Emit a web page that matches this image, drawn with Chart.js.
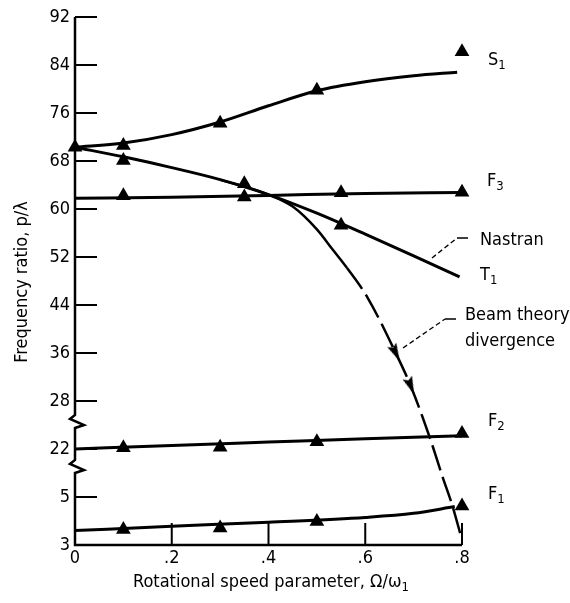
<!DOCTYPE html>
<html><head><meta charset="utf-8">
<script src="https://cdn.jsdelivr.net/npm/chart.js@4.4.0/dist/chart.umd.min.js"></script>
<style>html,body{margin:0;padding:0;background:#fff;} #wrap{width:570px;height:603px;position:relative;}</style>
</head><body><div id="wrap"><canvas id="c"></canvas></div>
<script>
const FONT = '"Liberation Sans Narrow", "DejaVu Sans Condensed", "Liberation Sans", sans-serif';

const s1LineX = [0, 0.1, 0.2, 0.3, 0.4, 0.5, 0.6, 0.7, 0.79];
const s1LineY = [70.3, 71.0, 72.4, 74.5, 77.2, 79.7, 81.2, 82.2, 82.8];
const s1PtsX = [0, 0.1, 0.3, 0.5, 0.8];
const s1PtsY = [70.3, 70.6, 74.3, 79.8, 86.2];

const t1LineX = [0, 0.1, 0.2, 0.3, 0.4, 0.5, 0.6, 0.7, 0.795];
const t1LineY = [70.3, 68.7, 66.9, 64.9, 62.4, 59.3, 55.8, 52.2, 48.7];
const t1PtsX = [0.1, 0.35, 0.55];
const t1PtsY = [68.1, 64.2, 57.3];

const f3LineX = [0, 0.2, 0.4, 0.6, 0.8];
const f3LineY = [61.8, 61.95, 62.25, 62.6, 62.75];
const f3PtsX = [0.1, 0.35, 0.55, 0.8];
const f3PtsY = [62.2, 62.0, 62.7, 62.8];

const f2LineX = [0, 0.2, 0.4, 0.6, 0.8];
const f2LineY = [22.0, 22.6, 23.15, 23.7, 24.2];
const f2PtsX = [0.1, 0.3, 0.5, 0.8];
const f2PtsY = [22.2, 22.3, 23.2, 24.6];

const f1LineX = [0, 0.2, 0.4, 0.6, 0.7, 0.785];
const f1LineY = [3.6, 3.78, 3.95, 4.15, 4.32, 4.6];
const f1PtsX = [0.1, 0.3, 0.5, 0.8];
const f1PtsY = [3.65, 3.71, 3.98, 4.63];

const beamX = [0.3, 0.4, 0.45, 0.5, 0.533, 0.562, 0.605, 0.663, 0.694, 0.733, 0.760, 0.781, 0.80];
const beamY = [64.9, 62.4, 60.4, 56.6, 53.2, 50.2, 45.2, 36.0, 30.5, 24.0, 5.83, 4.58, 3.21];
const beamDashFrom = 0.562;
const arrowX = [0.663, 0.694];
const arrowY = [36.0, 30.5];
const arrowAngle = [154, 158];

const xTicks = [0, 0.2, 0.4, 0.6, 0.8];
const xTickLabels = ['0', '.2', '.4', '.6', '.8'];
const yTicks = [3, 5, 22, 28, 36, 44, 52, 60, 68, 76, 84, 92];
const yTickLabels = ['3', '5', '22', '28', '36', '44', '52', '60', '68', '76', '84', '92'];

// ---- broken-axis mapping: real value -> axis coordinate ----
function toV(val) {
  if (val < 10) return (val - 3) * 4;   // bottom band (3..5)
  if (val < 26) return val - 6;         // middle band (22)
  return val - 4;                       // upper band (28..92)
}
const BREAK_UPPER_V = 20.5;
const BREAK_LOWER_V = 13;

const pts = (xs, ys) => xs.map((x, i) => ({x: x, y: toV(ys[i])}));

const lineDs = (xs, ys) => ({
  data: pts(xs, ys), showLine: true, borderColor: '#000', borderWidth: 3,
  pointRadius: 0, cubicInterpolationMode: 'monotone', clip: false, fill: false
});
const triDs = (xs, ys) => ({
  data: pts(xs, ys), showLine: false, pointStyle: 'triangle', pointRadius: 8.5,
  backgroundColor: '#000', borderColor: '#000', borderWidth: 0, clip: false
});

// arrow head image
const arrowImg = document.createElement('canvas');
arrowImg.width = 10; arrowImg.height = 18;
(function(){ const c = arrowImg.getContext('2d'); c.fillStyle = '#000'; c.beginPath();
  c.moveTo(5, 0); c.lineTo(10, 18); c.lineTo(5, 15); c.lineTo(0, 18); c.closePath(); c.fill(); })();

const decor = {
  id: 'decor',
  afterDraw(chart) {
    const ctx = chart.ctx, a = chart.chartArea, xs = chart.scales.x, ys = chart.scales.y;
    const L = a.left, B = a.bottom, T = a.top;
    ctx.save();
    ctx.strokeStyle = '#000'; ctx.lineCap = 'butt'; ctx.lineJoin = 'miter';
    // left axis with break marks
    const b1 = ys.getPixelForValue(BREAK_UPPER_V), b2 = ys.getPixelForValue(BREAK_LOWER_V);
    ctx.lineWidth = 2.5;
    ctx.beginPath();
    ctx.moveTo(L, T);
    [b1, b2].forEach(yb => {
      ctx.lineTo(L, yb - 7); ctx.lineTo(L - 5, yb - 3); ctx.lineTo(L + 9, yb + 3); ctx.lineTo(L, yb + 6);
    });
    ctx.lineTo(L, B);
    ctx.lineTo(xs.getPixelForValue(0.8), B);
    ctx.stroke();
    // tick marks (inside)
    ctx.lineWidth = 2;
    ctx.beginPath();
    yTicks.forEach(v => { const y = ys.getPixelForValue(toV(v)); ctx.moveTo(L, y); ctx.lineTo(L + 22, y); });
    xTicks.slice(1).forEach(v => { const x = xs.getPixelForValue(v); ctx.moveTo(x, B); ctx.lineTo(x, B - 22); });
    ctx.stroke();
    // leader lines
    ctx.lineWidth = 1.3; ctx.setLineDash([5, 3]);
    ctx.beginPath(); ctx.moveTo(432, 258); ctx.lineTo(457, 238); ctx.stroke();
    ctx.beginPath(); ctx.moveTo(403, 348); ctx.lineTo(445, 319); ctx.stroke();
    ctx.setLineDash([]);
    ctx.beginPath(); ctx.moveTo(457, 238); ctx.lineTo(468, 238); ctx.moveTo(445, 319); ctx.lineTo(456, 319); ctx.stroke();

    // texts
    ctx.fillStyle = '#000'; ctx.textBaseline = 'middle'; ctx.textAlign = 'left';
    const main = '18px ' + FONT, sub = '13px ' + FONT;
    function subText(m, s, x, y) {
      ctx.font = main; ctx.fillText(m, x, y);
      const w = ctx.measureText(m).width;
      ctx.font = sub; ctx.fillText(s, x + w, y + 6);
    }
    subText('S', '1', 488, 60);
    subText('F', '3', 487, 181);
    subText('T', '1', 480, 275);
    subText('F', '2', 488, 421);
    subText('F', '1', 488, 494);
    ctx.font = main;
    ctx.fillText('Nastran', 480, 240);
    ctx.fillText('Beam theory', 465, 315);
    ctx.fillText('divergence', 465, 341);
    // x title
    subText('Rotational speed parameter, \u03A9/\u03C9', '1', 133, 582);
    // y title
    ctx.save();
    ctx.translate(22, 282); ctx.rotate(-Math.PI / 2);
    ctx.textAlign = 'center'; ctx.font = main;
    ctx.fillText('Frequency ratio, p/\u03BB', 0, 0);
    ctx.restore();
    ctx.restore();
  }
};

new Chart(document.getElementById('c'), {
  type: 'line',
  data: {
    datasets: [
      lineDs(s1LineX, s1LineY), triDs(s1PtsX, s1PtsY),
      lineDs(t1LineX, t1LineY), triDs(t1PtsX, t1PtsY),
      lineDs(f3LineX, f3LineY), triDs(f3PtsX, f3PtsY),
      lineDs(f2LineX, f2LineY), triDs(f2PtsX, f2PtsY),
      lineDs(f1LineX, f1LineY), triDs(f1PtsX, f1PtsY),
      {
        data: pts(beamX, beamY), showLine: true, borderColor: '#000', borderWidth: 2.5,
        pointRadius: 0, cubicInterpolationMode: 'monotone', clip: false, fill: false,
        segment: { borderDash: c => c.p0.parsed.x >= beamDashFrom - 1e-6 ? [26, 7] : undefined }
      },
      {
        data: pts(arrowX, arrowY), showLine: false, pointStyle: arrowImg,
        rotation: arrowAngle, pointRadius: 6, clip: false
      }
    ]
  },
  options: {
    responsive: true, maintainAspectRatio: false, animation: false,
    layout: { padding: { left: 0, top: 17, right: 108, bottom: 0 } },
    plugins: { legend: { display: false }, tooltip: { enabled: false } },
    scales: {
      x: {
        type: 'linear', min: 0, max: 0.8,
        grid: { display: false, drawTicks: false }, border: { display: false },
        afterBuildTicks: s => { s.ticks = xTicks.map(v => ({ value: v })); },
        afterFit: s => { s.height = 58; },
        ticks: { color: '#000', font: { family: FONT, size: 18 }, padding: 3,
          maxRotation: 0, autoSkip: false, callback: (v, i) => xTickLabels[i] }
      },
      y: {
        type: 'linear', min: 0, max: 88,
        grid: { display: false, drawTicks: false }, border: { display: false },
        afterBuildTicks: s => { s.ticks = yTicks.map(v => ({ value: toV(v) })); },
        afterFit: s => { s.width = 75; },
        ticks: { color: '#000', font: { family: FONT, size: 18 }, padding: 5,
          autoSkip: false, callback: (v, i) => yTickLabels[i] }
      }
    }
  },
  plugins: [decor]
});
</script>
</body></html>
